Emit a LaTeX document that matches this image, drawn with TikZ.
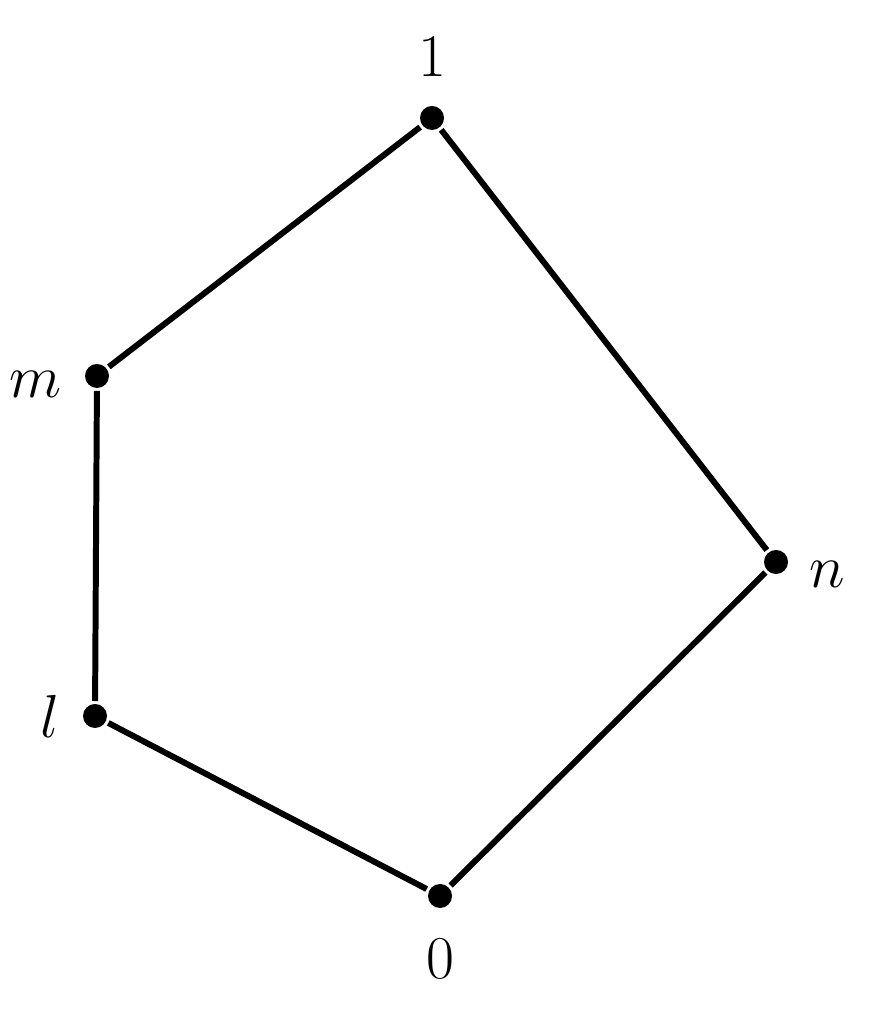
\documentclass[tikz,border=0pt]{standalone}
\usepackage{amssymb,amsmath}
\usepackage{tikz}
\usetikzlibrary{positioning}

\begin{document}
\begin{tikzpicture}[line width = 1.7pt, elem/.style={circle, fill, inner sep = 0pt, minimum width = 0.24cm}, every label/.style={font = \fontsize{18}{20}\selectfont}]
  \useasboundingbox (0,0) rectangle (8.82,10.2);
  % nodes
  \node [elem, label = {[label distance = 0.12cm]above:$1$}] (one) at (4.32,9.02) {};
  \node [elem, label = {[label distance = 0.06cm, yshift = -0.08cm]left:$m$}] (m) at (0.97,6.44) {};
  \node [elem, label = {[label distance = 0.06cm]left:$l$}] (l) at (0.95,3.04) {};
  \node [elem, label = {[label distance = 0.04cm, yshift = -0.12cm]right:$n$}] (n) at (7.76,4.58) {};
  \node [elem, label = {[label distance = 0.14cm]below:$0$}] (zero) at (4.40,1.24) {};

  % edges
  \draw (zero) -- (l) -- (m) -- (one);
  \draw (zero) -- (n) -- (one);
\end{tikzpicture}
\end{document}
